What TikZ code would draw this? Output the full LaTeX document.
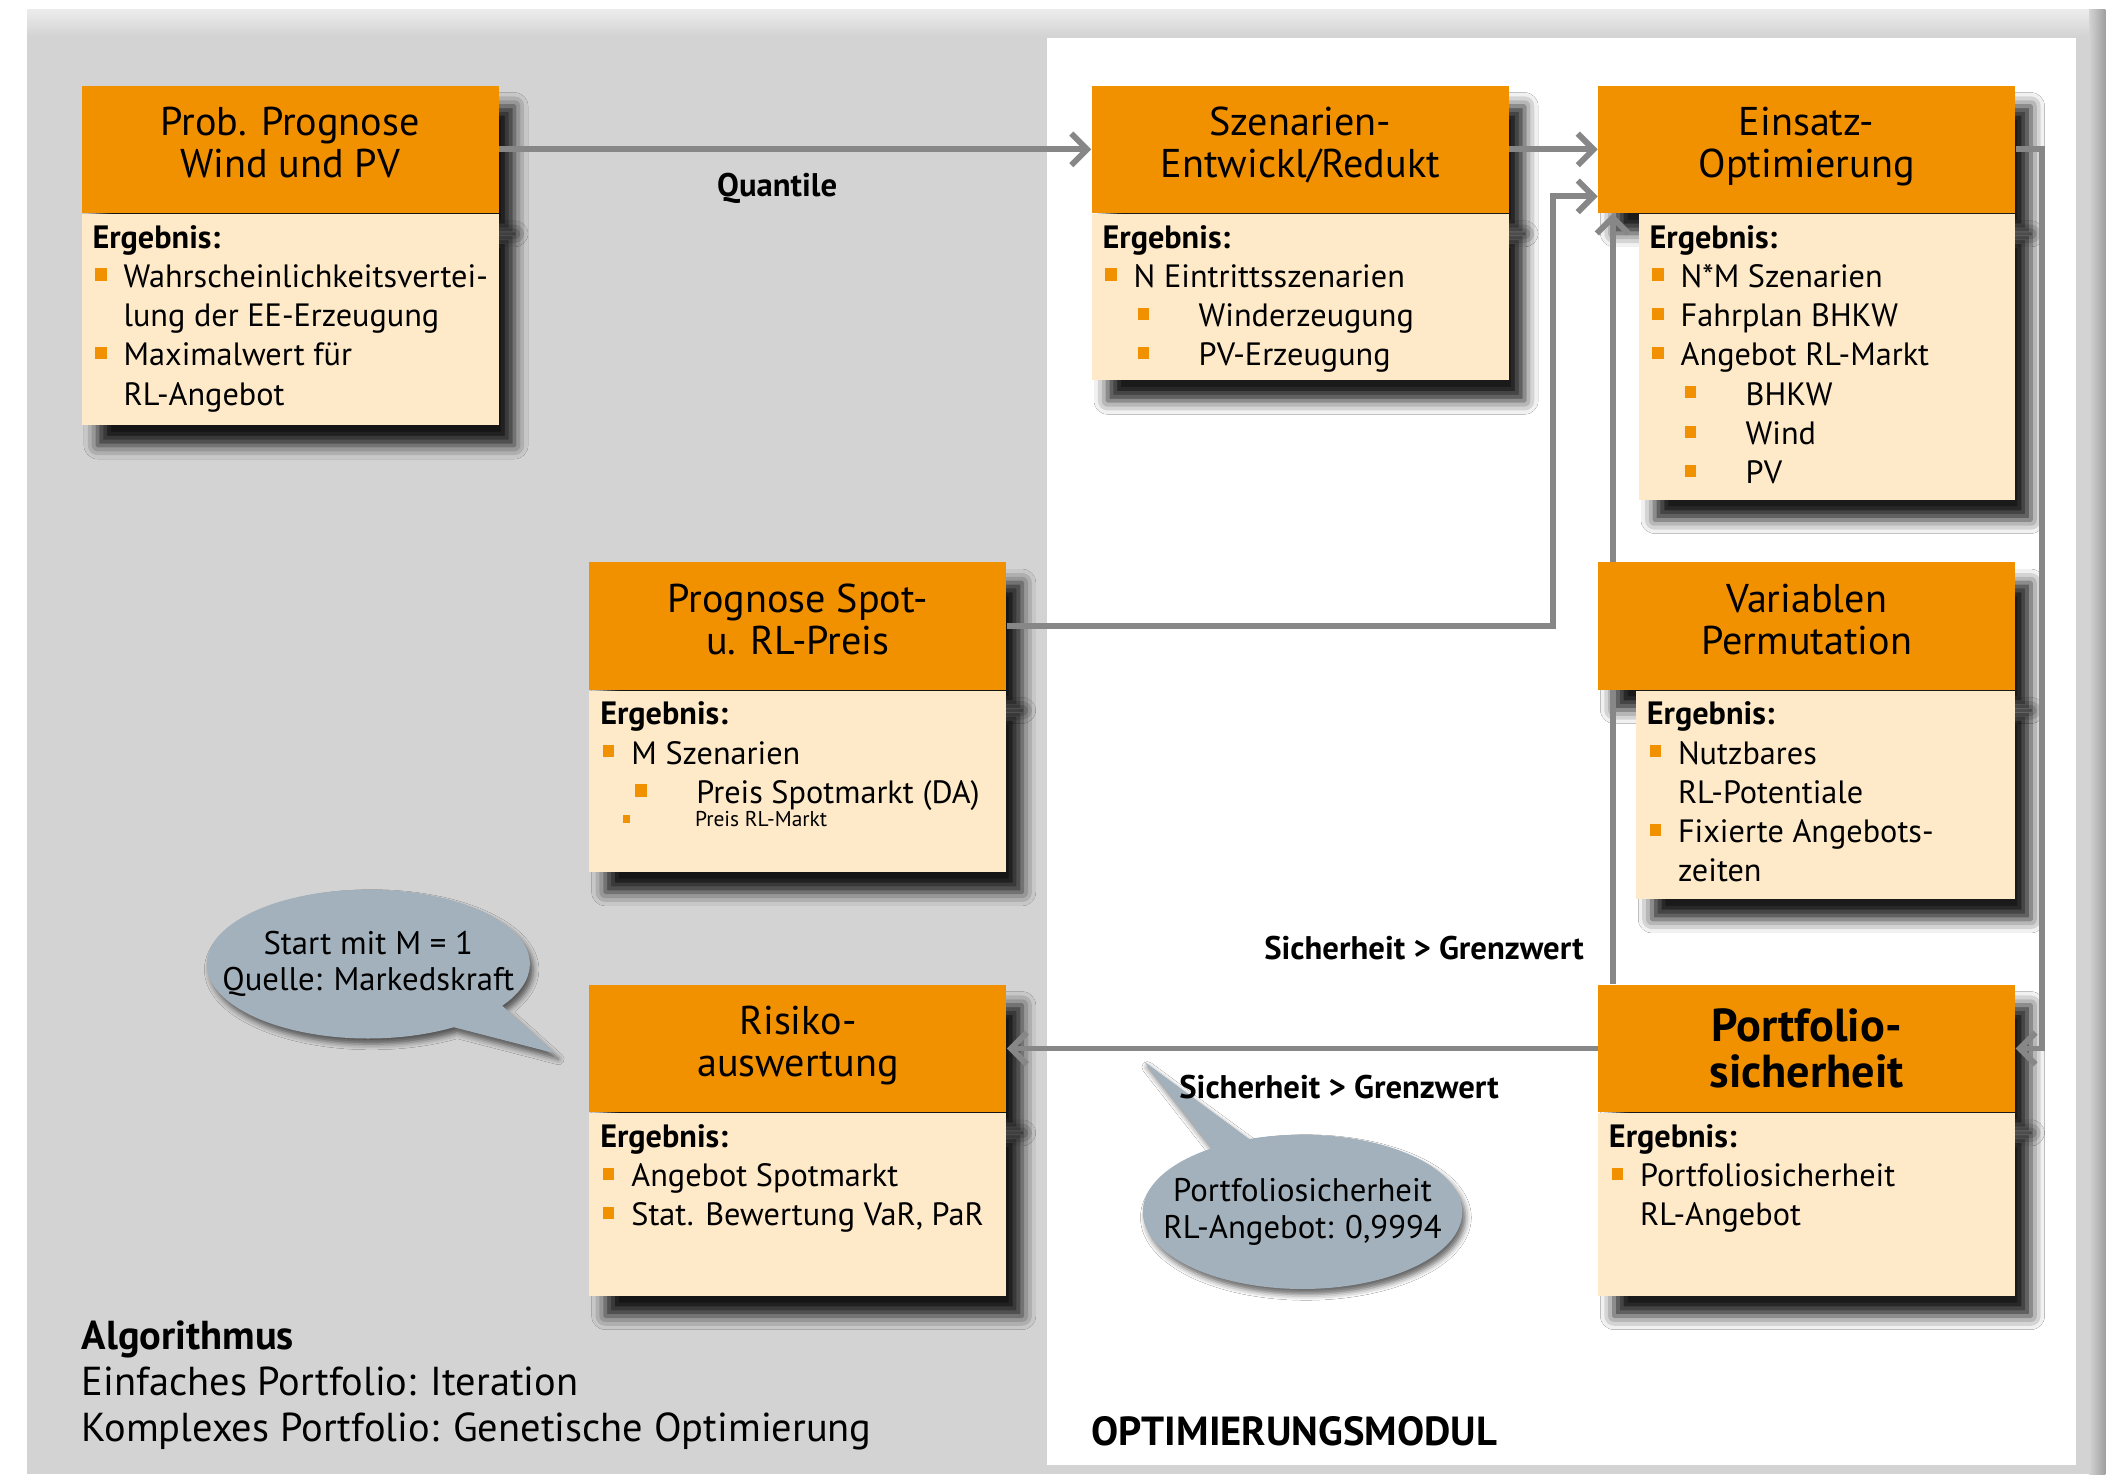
\documentclass[tikz,border=0pt]{standalone}
\usepackage{fontspec}
\setmainfont{PT Sans}
\usetikzlibrary{arrows.meta,shapes.callouts,shadows.blur}
\definecolor{fhorange}{HTML}{F29100}
\definecolor{fhlight}{HTML}{FEE9C9}
\definecolor{bggray}{HTML}{D3D3D3}
\definecolor{linegray}{HTML}{878787}
\definecolor{bubblegray}{HTML}{A3B1BC}
\newcommand\headfont{\fontsize{17.8}{18.6}\selectfont}
\newcommand\bodyfont{\fontsize{14.3}{17.4}\selectfont}
\newcommand\labfont{\fontsize{14.5}{16}\selectfont\bfseries}
\newcommand\bul{\textcolor{fhorange}{\rule[3pt]{5pt}{5.4pt}}}
\newcommand\lvla{\makebox[13.8pt][l]{\hspace{1.2pt}\bul}}
\newcommand\lvlb{\hspace{15.6pt}\makebox[27pt][l]{\bul}}
\newcommand\lvlc{\hspace{13.8pt}}
\newcommand\ergebnis[3]{\parbox[t][#2][t]{#1}{\raggedright\bodyfont\textbf{Ergebnis:}\\#3}}
\def\headnode{\node[headbox]}
\def\bodynode{\node[bodybox]}
\def\drawarrow{\draw[connarrow]}

\begin{document}
\begin{tikzpicture}[x=0.6pt,y=-0.6pt,
  boxshadow/.style={blur shadow={shadow xshift=7pt,shadow yshift=-9pt,shadow blur radius=6pt,shadow opacity=90}},
  headbox/.style={boxshadow,fill=fhorange,minimum width=184.8pt,minimum height=56.4pt,inner sep=0pt,anchor=north west,align=center,font=\headfont,text depth=6pt},
  bodybox/.style={boxshadow,fill=fhlight,inner xsep=4.8pt,inner ysep=5pt,anchor=north west},
  connarrow/.style={draw=linegray,line width=2.6pt,-{Straight Barb[length=7pt,width=14pt]}},
  labeltext/.style={font=\labfont,inner sep=0pt},
  bubblebox/.style={ellipse callout,fill=bubblegray,inner xsep=-14pt,inner ysep=0pt,align=center,
    font=\fontsize{14.5}{16.2}\selectfont,
    blur shadow={shadow xshift=1.5pt,shadow yshift=-2.5pt,shadow blur radius=2.5pt,shadow opacity=60}}]
\useasboundingbox (0,0) rectangle (1568,1089);
% Hintergrund
\fill[bggray] (20,7) rectangle (1555,1089);
\shade[top color=gray!15,bottom color=bggray] (20,7) rectangle (1555,27);
\shade[left color=bggray,right color=gray!75] (1543,7) rectangle (1555,1089);
\fill[white] (773,28) rectangle (1533,1082);

% Boxen
\headnode (h1) at (60,63) {Prob. Prognose\\Wind und PV};
\bodynode (b1) at (h1.south west) {\ergebnis{175.2pt}{83.6pt}{%
  \lvla Wahrscheinlichkeitsvertei-\\\lvlc lung der EE-Erzeugung\\
  \lvla Maximalwert für\\\lvlc RL-Angebot}};

\headnode (h2) at (806,63) {Szenarien-\\Entwickl/Redukt};
\bodynode (b2) at (h2.south west) {\ergebnis{175.2pt}{63.8pt}{%
  \lvla N Eintrittsszenarien\\\lvlb Winderzeugung\\\lvlb PV-Erzeugung}};

\headnode (h3) at (1180,63) {Einsatz-\\Optimierung};
\bodynode (b3) at ([xshift=18pt]h3.south west) {\ergebnis{157.2pt}{116.6pt}{%
  \lvla N*M Szenarien\\\lvla Fahrplan BHKW\\\lvla Angebot RL-Markt\\
  \lvlb BHKW\\\lvlb Wind\\\lvlb PV}};

\headnode (h4) at (435,415) {Prognose Spot-\\u. RL-Preis};
\bodynode (b4) at (h4.south west) {\ergebnis{175.2pt}{70.4pt}{%
  \lvla M Szenarien\\\lvlb Preis Spotmarkt (DA)\\[-7pt]
  \hspace{10.2pt}\makebox[31.8pt][l]{\textcolor{fhorange}{\rule[1.5pt]{3pt}{3.6pt}}}{\fontsize{9.5}{10}\selectfont Preis RL-Markt}}};

\headnode (h5) at (1180,415) {Variablen\\Permutation};
\bodynode (b5) at ([xshift=16.8pt]h5.south west) {\ergebnis{158.4pt}{82.4pt}{%
  \lvla Nutzbares\\\lvlc RL-Potentiale\\\lvla Fixierte Angebots-\\\lvlc zeiten}};

\headnode (h6) at (435,727) {Risiko-\\auswertung};
\bodynode (b6) at (h6.south west) {\ergebnis{175.2pt}{71pt}{%
  \lvla Angebot Spotmarkt\\\lvla Stat. Bewertung VaR, PaR}};

\headnode[font=\fontsize{20.5}{20.4}\selectfont\bfseries,text depth=0pt] (h7) at (1180,727) {Portfolio-\\sicherheit};
\bodynode (b7) at (h7.south west) {\ergebnis{175.2pt}{71pt}{%
  \lvla Portfoliosicherheit\\\lvlc RL-Angebot}};

% Sprechblasen
\node[bubblebox,callout absolute pointer={(410,778)},callout pointer arc=24,minimum width=141.6pt,minimum height=66pt] (start) at (272,712) {Start mit M = 1\\Quelle: Markedskraft};
\node[bubblebox,callout absolute pointer={(845,784)},callout pointer arc=15,minimum width=141.6pt,minimum height=68.4pt] (sicher) at (962,895) {Portfoliosicherheit\\RL-Angebot: 0,9994};

% Pfeile
\drawarrow (h1.east) -- (h2.west);
\drawarrow (h2.east) -- (h3.west);
\coordinate (knick) at (1147,145);
\drawarrow (h4.east) -| (knick) -- (knick -| h3.west);
\coordinate (rechts) at (1508,113);
\drawarrow (h3.east) -- (h3.east -| rechts) -- (rechts |- h7.east) -- (h7.east);
\draw[connarrow,-] ([xshift=6.6pt]h7.north west) -- ([xshift=6.6pt]h5.south west);
\drawarrow ([xshift=6.6pt]h5.north west) -- ([xshift=6.6pt]h3.south west);
\drawarrow (h7.west) -- (h6.east);

\node[labeltext] (quantile) at (574,139) {Quantile};
\node[labeltext,anchor=east] (grenz1) at (1170,700) {Sicherheit > Grenzwert};
\node[labeltext] (grenz2) at (989,803) {Sicherheit > Grenzwert};

% Texte unten
\node[anchor=north west,align=left,inner sep=0pt,font=\fontsize{17.9}{20.4}\selectfont] (algo) at (60,975)
  {\textbf{Algorithmus}\\Einfaches Portfolio: Iteration\\Komplexes Portfolio: Genetische Optimierung};
\node[anchor=south west,inner sep=0pt,font=\fontsize{18}{20}\selectfont\bfseries] (modul) at (806,1068) {OPTIMIERUNGSMODUL};
\end{tikzpicture}
\end{document}
